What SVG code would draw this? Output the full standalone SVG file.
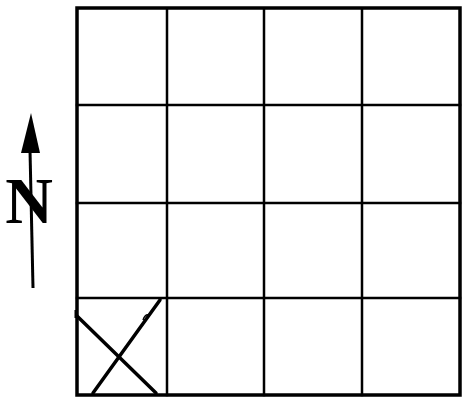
<svg xmlns="http://www.w3.org/2000/svg" width="462" height="397" viewBox="0 0 462 397">
<style>
.g{stroke:#000;fill:none;stroke-linecap:square}
.o{stroke-width:3.5}
.i{stroke-width:2.5}
.x{stroke:#000;fill:none;stroke-width:3.5;stroke-linecap:round}
</style>
<rect width="462" height="397" fill="#fff"/>
<g id="grid">
<line class="g i" x1="167" y1="9" x2="167" y2="395"/>
<line class="g i" x1="264" y1="9" x2="264" y2="395"/>
<line class="g i" x1="362" y1="9" x2="362" y2="395"/>
<line class="g i" x1="77" y1="105" x2="460" y2="105"/>
<line class="g i" x1="77" y1="203" x2="460" y2="203"/>
<line class="g i" x1="77" y1="298" x2="460" y2="298"/>
<rect class="g o" x="77" y="8" width="383" height="387"/>
</g>
<g id="cross">
<line class="x" x1="77" y1="316" x2="156" y2="393"/>
<line class="x" x1="93" y1="393" x2="160" y2="300"/>
<path d="M143,320 q2,-6 6,-5" stroke="#000" stroke-width="1.5" fill="none"/>
<line x1="76" y1="310" x2="76" y2="318" stroke="#000" stroke-width="3"/>
</g>
<g id="north">
<line x1="30" y1="150" x2="33" y2="288" stroke="#000" stroke-width="3"/>
<polygon points="31,113 21,153 40,153" fill="#000"/>
<text x="29" y="223" font-family="Liberation Serif, serif" font-weight="bold" font-size="66" text-anchor="middle">N</text>
</g>
</svg>
